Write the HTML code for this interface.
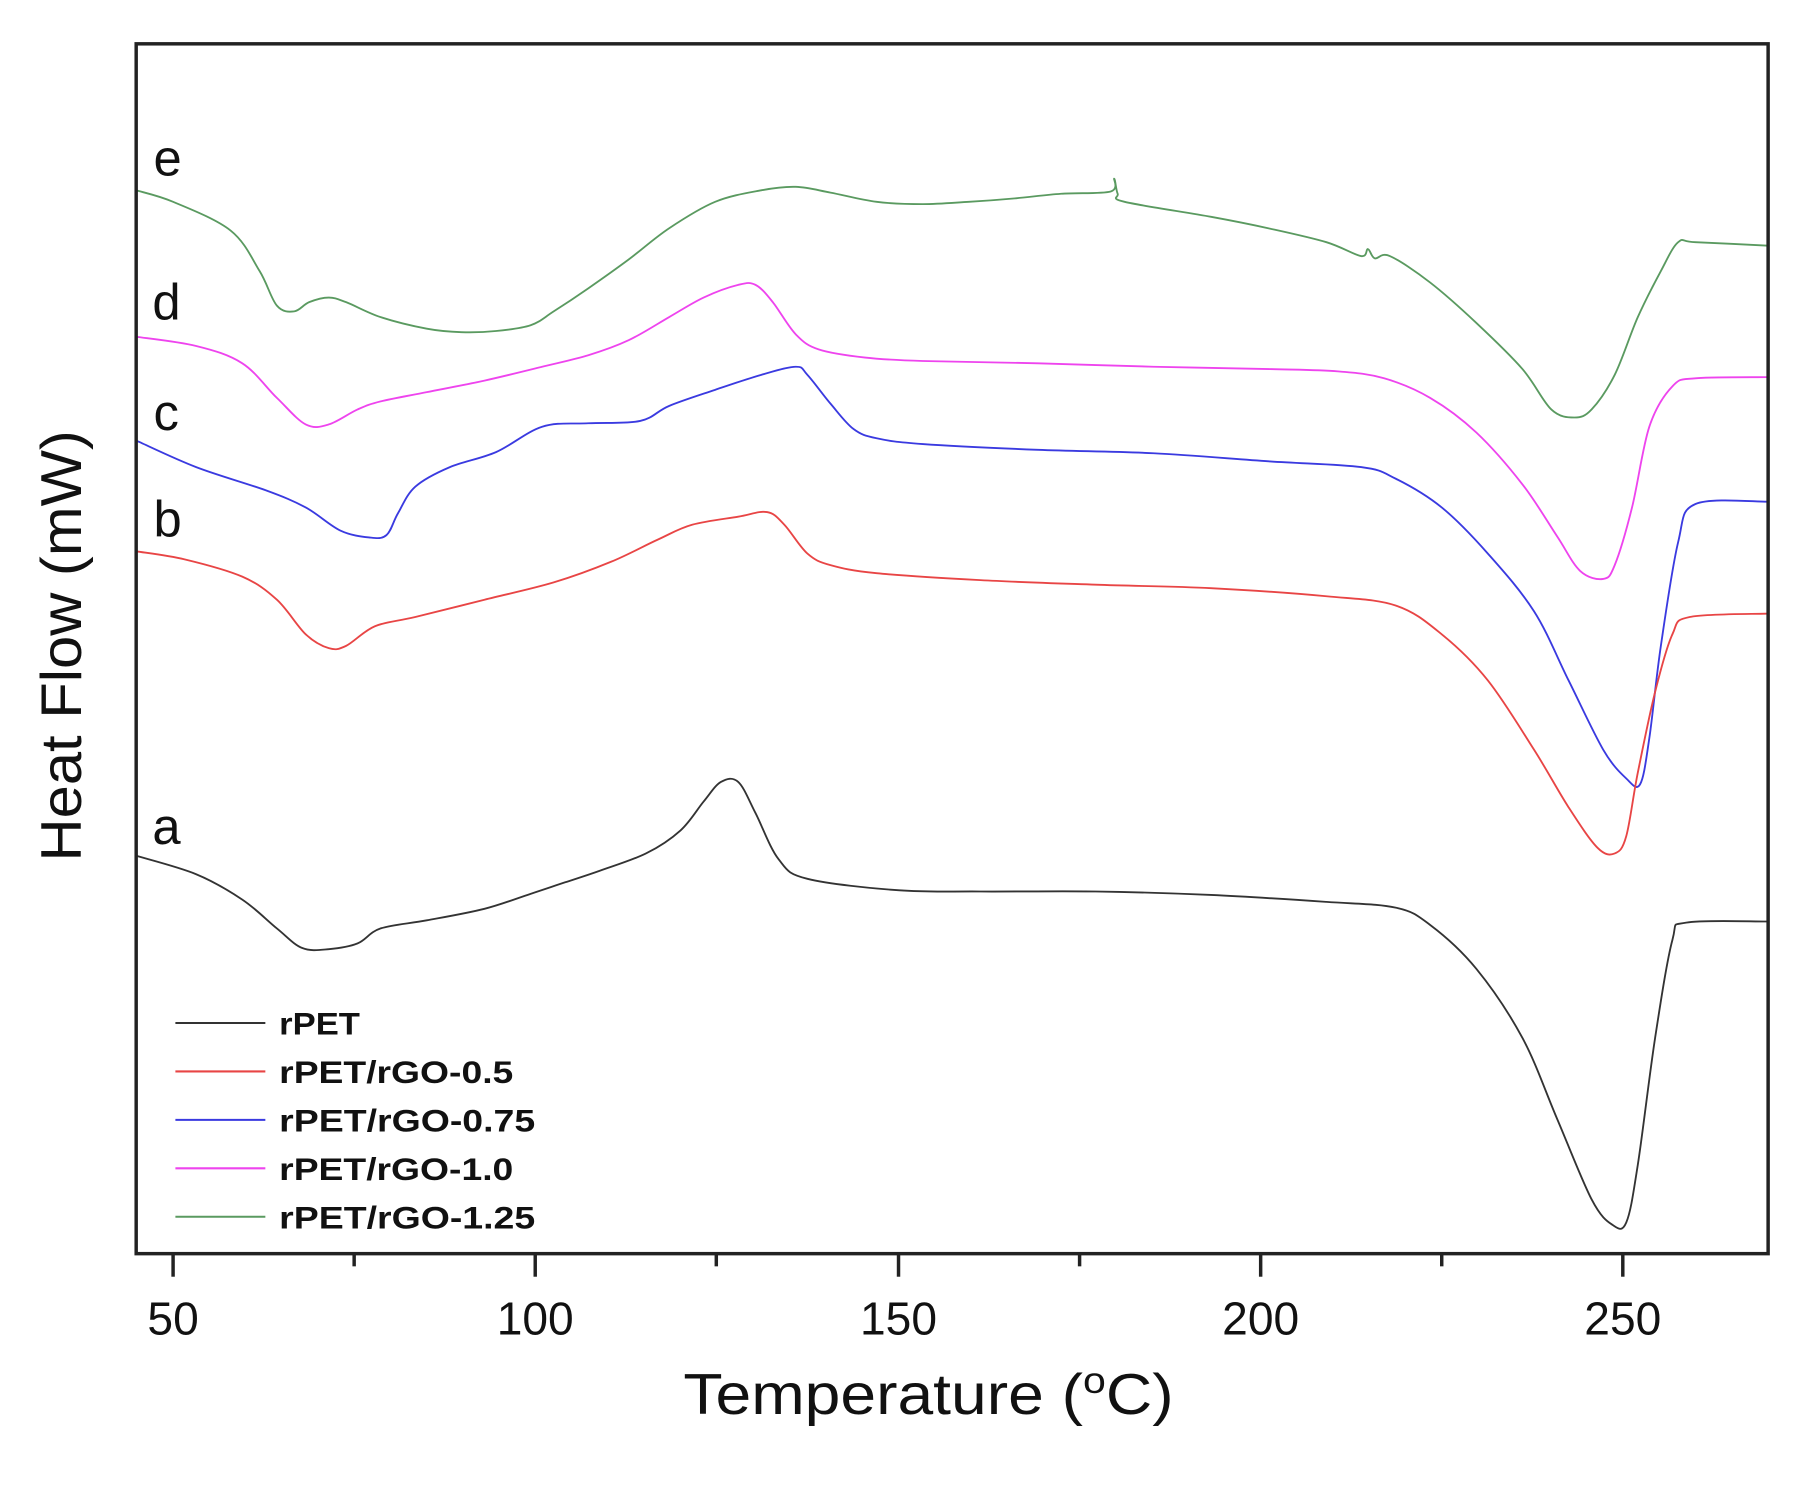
<!DOCTYPE html>
<html><head><meta charset="utf-8"><style>html,body{margin:0;padding:0;background:#fff}svg{display:block}</style></head>
<body>
<svg id="s" width="1808" height="1497" viewBox="0 0 1567.5 1298" xmlns="http://www.w3.org/2000/svg">
<rect width="1567.5" height="1298" fill="#fff"/>
<g fill="none" stroke-width="1.6" stroke-linejoin="round">
<polyline class="c" stroke="#5a9a60" points="118,165 150,175 200,200 225,235 240,265 255,270 268,262 285,258 300,262 330,275 370,285 400,288 430,287 460,282 480,270 510,250 545,225 580,198 620,175 660,165 690,162 720,167 760,175 800,177 840,175 880,172 920,168 963,166 966,155 969,168 975,175 1050,188 1100,198 1150,210 1180,222 1186,216 1192,224 1205,222 1240,245 1280,280 1320,320 1345,355 1365,362 1380,355 1400,325 1420,275 1440,235 1455,210 1470,210 1533,213"/>
<polyline class="c" stroke="#ee44ee" points="118,292 170,300 210,315 240,345 265,368 285,368 310,355 330,348 370,340 420,330 470,318 510,308 545,295 580,275 610,258 640,247 655,247 670,262 690,290 710,303 750,310 800,313 900,315 1000,318 1100,320 1160,322 1200,328 1240,345 1280,375 1320,420 1350,465 1370,495 1390,502 1400,490 1415,440 1430,370 1450,335 1470,328 1533,327"/>
<polyline class="c" stroke="#3a3ae0" points="118,382 170,405 230,425 265,440 295,460 320,466 335,464 345,445 360,422 390,405 430,392 470,370 510,367 555,365 580,352 620,338 660,325 690,318 700,325 720,350 740,372 760,380 800,385 900,390 1000,393 1100,400 1180,405 1210,415 1250,440 1290,480 1330,530 1360,590 1390,650 1410,675 1422,680 1430,640 1440,560 1455,470 1470,437 1533,435"/>
<polyline class="c" stroke="#e84545" points="118,478 160,485 210,500 240,520 265,550 285,562 300,560 325,543 360,535 420,520 480,505 530,487 570,468 600,455 640,448 665,444 680,455 700,480 720,490 760,497 850,503 950,507 1050,510 1150,517 1210,525 1250,550 1290,590 1330,650 1360,700 1385,735 1400,740 1410,725 1420,670 1435,600 1450,550 1465,535 1533,532"/>
<polyline class="c" stroke="#333" points="118,742 170,758 210,780 240,805 262,822 285,823 310,818 330,805 370,798 420,788 460,775 490,765 520,755 560,740 590,720 610,695 625,678 640,678 655,705 675,745 700,762 780,772 850,773 950,773 1050,776 1150,782 1210,787 1240,802 1280,840 1320,900 1350,970 1380,1040 1398,1062 1410,1060 1420,1010 1435,900 1450,815 1462,800 1533,799"/>
</g>
<rect x="118" y="38" width="1415" height="1049" fill="none" stroke="#222" stroke-width="3"/>
<g stroke="#222" stroke-width="3">
<line x1="150" y1="1087" x2="150" y2="1107"/><line x1="307" y1="1087" x2="307" y2="1098"/>
<line x1="464" y1="1087" x2="464" y2="1107"/><line x1="621" y1="1087" x2="621" y2="1098"/>
<line x1="779" y1="1087" x2="779" y2="1107"/><line x1="936" y1="1087" x2="936" y2="1098"/>
<line x1="1093" y1="1087" x2="1093" y2="1107"/><line x1="1250" y1="1087" x2="1250" y2="1098"/>
<line x1="1407" y1="1087" x2="1407" y2="1107"/>
</g>
<g font-family="Liberation Sans, sans-serif" fill="#111" font-size="40" text-anchor="middle">
<text x="150" y="1157">50</text><text x="464" y="1157">100</text><text x="779" y="1157">150</text><text x="1093" y="1157">200</text><text x="1407" y="1157">250</text>
<text x="805" y="1226" font-size="50" textLength="425" lengthAdjust="spacingAndGlyphs">Temperature (<tspan font-size="32" dy="-18">o</tspan><tspan dy="18">C)</tspan></text>
<text transform="translate(70,560) rotate(-90)" font-size="50" textLength="374" lengthAdjust="spacingAndGlyphs">Heat Flow (mW)</text>
</g>
<g font-family="Liberation Sans, sans-serif" fill="#111" font-size="44">
<text x="133" y="152">e</text><text x="132" y="277">d</text><text x="133" y="373">c</text><text x="133" y="465">b</text><text x="132" y="732">a</text>
</g>
<g stroke-width="1.8">
<line x1="152" y1="887" x2="230" y2="887" stroke="#333"/>
<line x1="152" y1="929" x2="230" y2="929" stroke="#e84545"/>
<line x1="152" y1="971" x2="230" y2="971" stroke="#3a3ae0"/>
<line x1="152" y1="1013" x2="230" y2="1013" stroke="#ee44ee"/>
<line x1="152" y1="1055" x2="230" y2="1055" stroke="#5a9a60"/>
</g>
<g font-family="Liberation Sans, sans-serif" font-weight="bold" fill="#111" font-size="27">
<text x="242" y="897" textLength="70" lengthAdjust="spacingAndGlyphs">rPET</text>
<text x="242" y="939" textLength="203" lengthAdjust="spacingAndGlyphs">rPET/rGO-0.5</text>
<text x="242" y="981" textLength="222" lengthAdjust="spacingAndGlyphs">rPET/rGO-0.75</text>
<text x="242" y="1023" textLength="203" lengthAdjust="spacingAndGlyphs">rPET/rGO-1.0</text>
<text x="242" y="1065" textLength="222" lengthAdjust="spacingAndGlyphs">rPET/rGO-1.25</text>
</g>
</svg>
<script>
document.querySelectorAll('polyline.c').forEach(function(pl){
  var p=pl.getAttribute('points').trim().split(/\s+/).map(function(s){return s.split(',').map(Number);});
  var d='M'+p[0][0]+','+p[0][1];
  for(var i=0;i<p.length-1;i++){
    var p0=p[Math.max(i-1,0)],p1=p[i],p2=p[i+1],p3=p[Math.min(i+2,p.length-1)];
    var t=0.5/3;
    d+=' C'+(p1[0]+(p2[0]-p0[0])*t).toFixed(1)+','+(p1[1]+(p2[1]-p0[1])*t).toFixed(1)+' '+(p2[0]-(p3[0]-p1[0])*t).toFixed(1)+','+(p2[1]-(p3[1]-p1[1])*t).toFixed(1)+' '+p2[0]+','+p2[1];
  }
  var path=document.createElementNS('http://www.w3.org/2000/svg','path');
  path.setAttribute('d',d);path.setAttribute('stroke',pl.getAttribute('stroke'));
  pl.parentNode.replaceChild(path,pl);
});
</script>
</body></html>
